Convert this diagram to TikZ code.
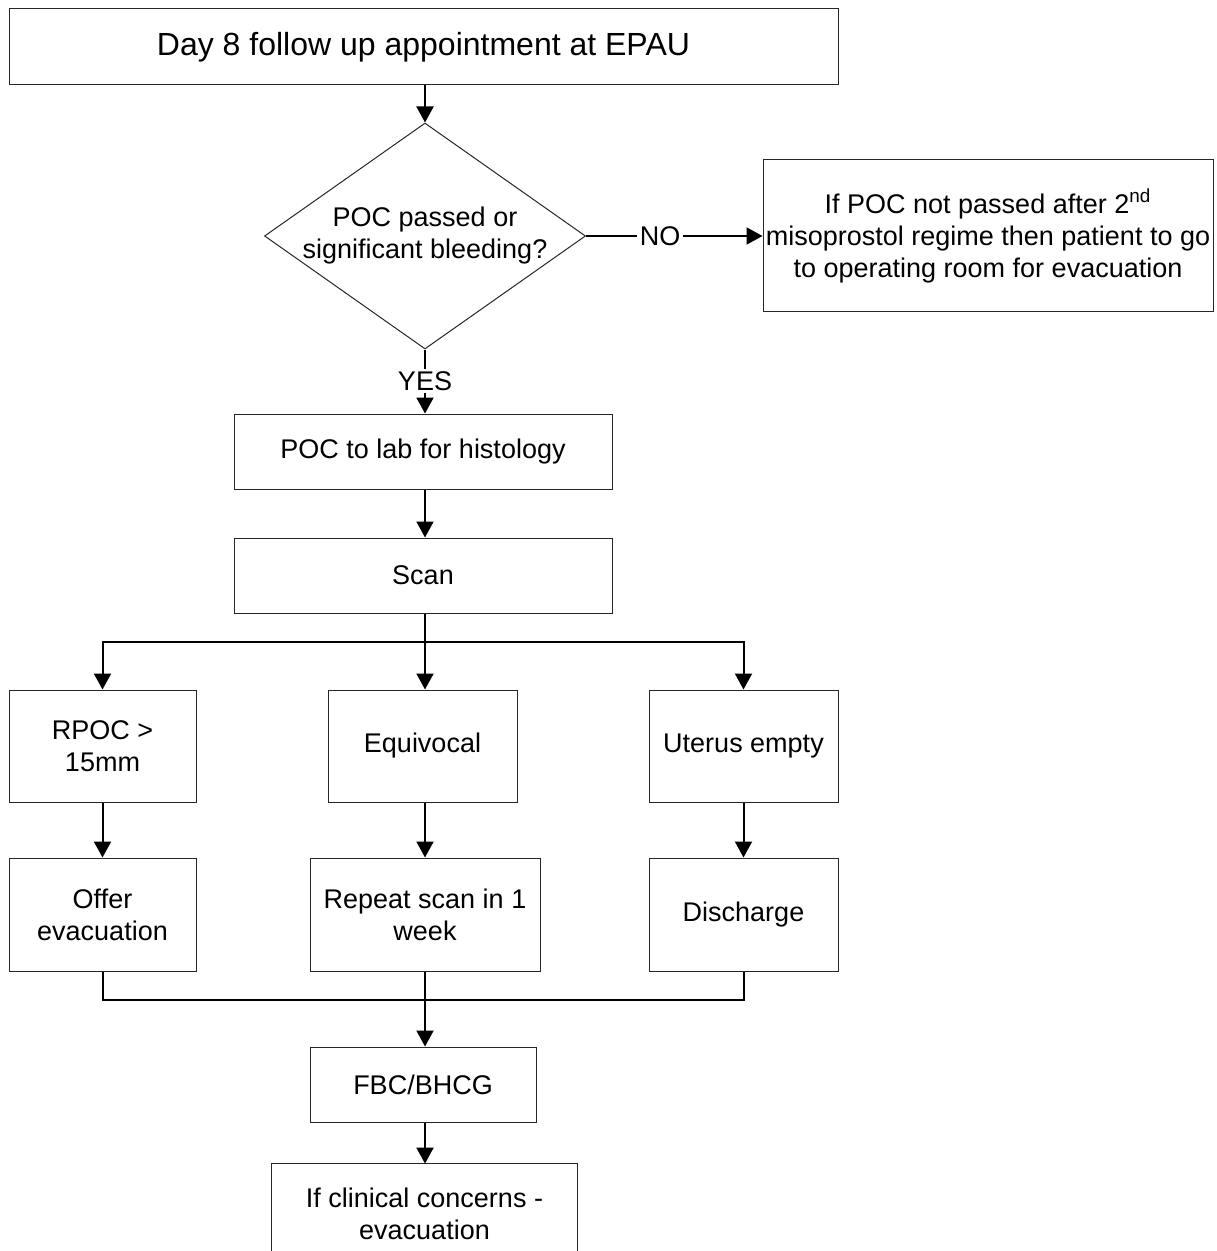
\documentclass[tikz,border=0pt]{standalone}
\usepackage{fontspec}
\setmainfont{Liberation Sans}
\usetikzlibrary{shapes.geometric,arrows.meta}
\begin{document}
\begin{tikzpicture}[x=0.5pt,y=-0.5pt,
  box/.style={draw=black!85,line width=0.5pt,rectangle,inner sep=0pt,align=center,
     font=\fontsize{13.5}{16}\selectfont},
  conn/.style={line width=1pt},
  arr/.style={line width=1pt,-{Triangle[length=8pt,width=8.5pt]}},
  lbl/.style={inner sep=1pt,font=\fontsize{13.5}{16}\selectfont}
]
\useasboundingbox (0,0) rectangle (1216,1251);
\node[box,minimum width=414.5pt,minimum height=38pt,font=\fontsize{16}{19}\selectfont] (top) at (423.5,47) {Day 8 follow up appointment at EPAU};
\node[draw=black!85,line width=0.5pt,diamond,aspect=1.42,minimum width=160.5pt,minimum height=113pt,inner sep=0pt] (dia) at (425,236) {};
\node[align=center,inner sep=0pt,font=\fontsize{13.5}{16}\selectfont] (diatext) at (dia.center) {POC passed or\\significant bleeding?};
\node[box,minimum width=225pt,minimum height=76pt] (right) at (988,236) {If POC not passed after 2\textsuperscript{nd}\\misoprostol regime then patient to go\\to operating room for evacuation};
\node[lbl] (no) at (660,236) {NO};
\node[lbl] (yes) at (425,381) {YES};
\node[box,minimum width=189pt,minimum height=37.5pt] (hist) at (423,451.5) {POC to lab for histology};
\node[box,minimum width=189pt,minimum height=37.5pt] (scan) at (423,575.5) {Scan};
\node[box,minimum width=93.5pt,minimum height=56pt] (rpoc) at (102.5,746) {RPOC >\\15mm};
\node[box,minimum width=94.5pt,minimum height=56pt] (equiv) at (422.5,746) {Equivocal};
\node[box,minimum width=94.5pt,minimum height=56pt] (uterus) at (743.5,746) {Uterus empty};
\node[box,minimum width=93.5pt,minimum height=56.5pt] (offer) at (102.5,914.5) {Offer\\evacuation};
\node[box,minimum width=115pt,minimum height=56.5pt] (repeat) at (425,914.5) {Repeat scan in 1\\week};
\node[box,minimum width=94.5pt,minimum height=56.5pt] (disch) at (743.5,914.5) {Discharge};
\node[box,minimum width=113pt,minimum height=37.5pt] (fbc) at (423,1084.5) {FBC/BHCG};
\node[inner sep=0pt,minimum width=152.5pt,minimum height=50pt,align=center,font=\fontsize{13.5}{16}\selectfont] (last) at (424.5,1214) {If clinical concerns -\\evacuation};
\draw[draw=black!85,line width=0.5pt] (last.south west) -- (last.north west) -- (last.north east) -- (last.south east);
\coordinate (split) at (425,642);
\coordinate (join) at (425,1000);
% connectors
\draw[arr] (top.south -| dia.north) -- (dia.north);
\draw[conn] (dia.east) -- (no.west);
\draw[arr] (no.east) -- (right.west);
\draw[conn] (dia.south) -- (yes.north);
\draw[arr] (yes.south) -- (yes.south |- hist.north);
\draw[arr] (hist.south -| dia.south) -- (dia.south |- scan.north);
\draw[conn] (scan.south -| split) -- (split);
\draw[arr] (split) -| (rpoc.north);
\draw[arr] (split) -- (split |- equiv.north);
\draw[arr] (split) -| (uterus.north);
\draw[arr] (rpoc.south) -- (offer.north);
\draw[arr] (equiv.south -| split) -- (split |- repeat.north);
\draw[arr] (uterus.south) -- (disch.north);
\draw[conn] (offer.south) |- (join);
\draw[conn] (disch.south) |- (join);
\draw[arr] (repeat.south) -- (repeat.south |- fbc.north);
\draw[arr] (fbc.south -| join) -- (join |- last.north);
\end{tikzpicture}
\end{document}
